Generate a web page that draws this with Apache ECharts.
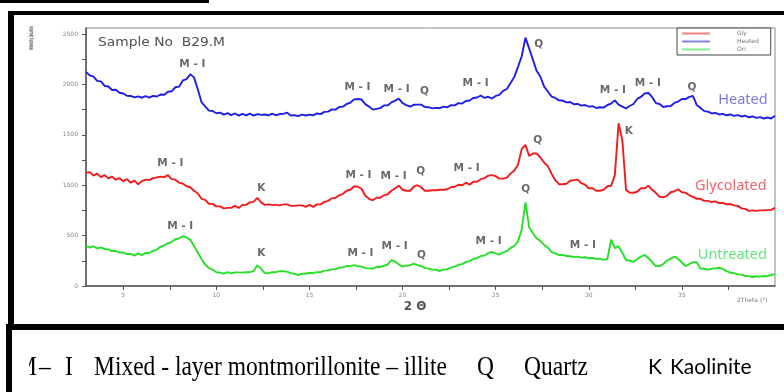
<!DOCTYPE html>
<html><head><meta charset="utf-8">
<script src="https://cdn.jsdelivr.net/npm/echarts@6/dist/echarts.min.js"></script>
<style>html,body{margin:0;padding:0;background:#fff}#c{width:784px;height:392px}</style>
</head><body><div id="c"></div>
<script>
const twoTheta = [
3,3.2,3.4,3.6,3.8,4,4.2,4.4,4.6,4.8,
5,5.2,5.4,5.6,5.8,6,6.2,6.4,6.6,6.8,
7,7.2,7.4,7.6,7.8,8,8.2,8.4,8.6,8.8,
9,9.2,9.4,9.6,9.8,10,10.2,10.4,10.6,10.8,
11,11.2,11.4,11.6,11.8,12,12.2,12.4,12.6,12.8,
13,13.2,13.4,13.6,13.8,14,14.2,14.4,14.6,14.8,
15,15.2,15.4,15.6,15.8,16,16.2,16.4,16.6,16.8,
17,17.2,17.4,17.6,17.8,18,18.2,18.4,18.6,18.8,
19,19.2,19.4,19.6,19.8,20,20.2,20.4,20.6,20.8,
21,21.2,21.4,21.6,21.8,22,22.2,22.4,22.6,22.8,
23,23.2,23.4,23.6,23.8,24,24.2,24.4,24.6,24.8,
25,25.2,25.4,25.6,25.8,26,26.2,26.4,26.6,26.8,
27,27.2,27.4,27.6,27.8,28,28.2,28.4,28.6,28.8,
29,29.2,29.4,29.6,29.8,30,30.2,30.4,30.6,30.8,
31,31.2,31.4,31.6,31.8,32,32.2,32.4,32.6,32.8,
33,33.2,33.4,33.6,33.8,34,34.2,34.4,34.6,34.8,
35,35.2,35.4,35.6,35.8,36,36.2,36.4,36.6,36.8,
37,37.2,37.4,37.6,37.8,38,38.2,38.4,38.6,38.8,
39,39.2,39.4,39.6,39.8,40
];
const heated = [
2125,2090,2078,2035,2030,1985,1980,1945,1948,1918,
1910,1888,1886,1872,1882,1868,1884,1870,1886,1880,
1900,1898,1928,1932,1972,1978,2040,2052,2100,2070,
1955,1825,1782,1740,1736,1714,1720,1700,1716,1696,
1712,1690,1708,1692,1710,1690,1706,1698,1702,1694,
1710,1694,1706,1708,1720,1692,1696,1686,1700,1692,
1700,1694,1712,1706,1728,1730,1752,1750,1776,1780,
1806,1820,1852,1856,1850,1805,1780,1750,1758,1765,
1792,1792,1822,1840,1860,1815,1795,1780,1798,1800,
1800,1776,1774,1762,1768,1764,1780,1774,1794,1792,
1815,1810,1836,1840,1866,1870,1890,1866,1878,1860,
1886,1896,1936,1955,2015,2075,2175,2280,2465,2355,
2245,2135,2076,1980,1930,1880,1866,1842,1840,1822,
1826,1804,1806,1790,1796,1780,1784,1766,1774,1770,
1796,1810,1842,1800,1780,1762,1786,1806,1856,1876,
1910,1915,1876,1815,1806,1776,1784,1786,1816,1830,
1856,1855,1876,1885,1795,1766,1735,1730,1712,1718,
1702,1708,1694,1702,1688,1696,1682,1690,1674,1682,
1668,1676,1662,1672,1662,1690
];
const glycolated = [
1125,1130,1095,1115,1080,1100,1068,1085,1055,1070,
1040,1060,1025,1045,1010,1040,1055,1050,1070,1078,
1085,1080,1100,1060,1055,1025,1015,990,980,945,
920,865,855,815,815,790,790,770,775,775,
795,775,805,805,830,835,875,830,805,810,
805,805,800,810,810,795,795,800,800,785,
805,785,810,810,835,845,870,875,900,915,
945,955,990,985,965,895,865,850,875,875,
900,910,945,970,995,955,945,945,985,1000,
980,945,945,950,950,955,955,960,980,985,
1005,1000,1025,1005,1035,1035,1060,1070,1095,1100,
1090,1065,1065,1075,1115,1145,1205,1360,1400,1290,
1315,1315,1275,1225,1190,1115,1050,1010,1010,1015,
1045,1050,1055,1020,1005,970,970,945,945,955,
990,995,1100,1615,1450,955,925,925,935,970,
970,995,955,925,885,880,895,930,940,960,
930,925,900,885,865,865,845,845,833,840,
823,825,810,813,800,795,770,765,745,750,
745,750,750,753,755,775
];
const untreated = [
398,382,393,372,383,367,363,347,348,332,
333,317,318,302,323,307,328,327,348,362,
388,402,424,436,464,471,494,482,458,398,
333,268,212,178,163,137,133,122,138,125,
135,135,133,137,138,148,205,172,128,127,
138,137,148,147,143,127,121,109,123,122,
131,127,138,137,153,155,165,167,181,187,
198,197,208,197,193,177,175,172,188,189,
201,212,258,242,213,192,203,205,221,207,
198,177,173,162,161,149,163,167,183,192,
211,217,238,247,268,277,298,302,328,337,
323,312,333,347,378,397,443,560,830,580,
523,472,448,407,383,337,323,307,308,297,
295,287,291,282,285,275,278,269,271,259,
268,460,375,395,330,258,253,239,265,292,
308,277,238,197,198,217,253,272,293,267,
233,197,218,237,233,172,171,162,173,172,
181,169,148,132,128,115,113,99,98,89,
97,94,99,97,111,115
];
const yTickValues = [0,250,500,750,1000,1250,1500,1750,2000,2250,2500];
const yLabelValues = [0,500,1000,1500,2000,2500];
const xTickValues = [5,7.5,10,12.5,15,17.5,20,22.5,25,27.5,30,32.5,35,37.5];
const xLabelValues = [5,10,15,20,25,30,35];
const heatedNotes = [
  ['M - I', 8.71, 2202], ['M - I', 17.58, 1974], ['M - I', 19.68, 1954], ['Q', 21.18, 1934],
  ['M - I', 23.92, 2014], ['Q', 27.31, 2401], ['M - I', 31.29, 1944], ['M - I', 33.17, 2014], ['Q', 35.54, 1974]
];
const glycolatedNotes = [
  ['M - I', 7.53, 1220], ['K', 12.42, 972], ['M - I', 17.63, 1101], ['M - I', 19.52, 1091],
  ['Q', 20.97, 1141], ['M - I', 23.44, 1171], ['Q', 27.26, 1448], ['K', 32.15, 1538]
];
const untreatedNotes = [
  ['M - I', 8.06, 595], ['K', 12.42, 327], ['M - I', 17.74, 327], ['M - I', 19.57, 397],
  ['Q', 21.02, 308], ['M - I', 24.62, 446], ['Q', 26.61, 962], ['M - I', 29.68, 407]
];
const seriesTags = [
  ['Heated', 38.28, 1845, '#5a5ad2'],
  ['Glycolated', 37.63, 992, '#e8404a'],
  ['Untreated', 37.71, 308, '#3cdc5a']
];

const BLUE = '#1e1ee6', RED = '#f01c1c', GREEN = '#26e026';
const pairs = arr => twoTheta.map((x, i) => [x, arr[i]]);
const notes = heatedNotes.concat(glycolatedNotes, untreatedNotes).map(n => ({name: n[0], value: [n[1], n[2]]}));
const tags = seriesTags.map(t => ({name: t[0], value: [t[1], t[2]], label: {color: t[3]}}));

const chart = echarts.init(document.getElementById('c'), null, {renderer: 'canvas'});
const lineSeries = (name, data, color, z) => ({
  type: 'line', name: name, data: pairs(data), showSymbol: false, symbol: 'none',
  lineStyle: {width: 1.9, color: color}, itemStyle: {color: color}, z: z, animation: false
});
chart.setOption({
  animation: false,
  backgroundColor: '#fff',
  grid: {left: 86, right: 9, top: 28, bottom: 106, show: true, borderColor: '#8a8a8a', borderWidth: 1},
  legend: {
    orient: 'vertical', left: 677, top: 28, padding: [2, 12, 2, 5], itemGap: 1,
    itemWidth: 28, itemHeight: 2, icon: 'rect',
    borderColor: '#444', borderWidth: 1, backgroundColor: '#fff',
    itemStyle: {opacity: 0.55},
    textStyle: {fontSize: 6, color: '#777', padding: [0, 0, 0, 22], lineHeight: 7, fontFamily: 'DejaVu Sans'},
    data: ['Gly', 'Heated', 'Ori']
  },
  xAxis: {
    type: 'value', min: 3, max: 40,
    axisLine: {show: true, onZero: false, lineStyle: {color: '#555', width: 1.5}},
    axisTick: {show: true, customValues: xTickValues, length: 4, lineStyle: {color: '#555'}},
    axisLabel: {customValues: xLabelValues, formatter: v => String(v), fontSize: 6, color: '#888', margin: 6, fontFamily: 'DejaVu Sans'},
    splitLine: {show: false}
  },
  yAxis: {
    type: 'value', min: 0, max: 2560,
    axisLine: {show: true, lineStyle: {color: '#555', width: 1.5}},
    axisTick: {show: true, customValues: yTickValues, length: 4, lineStyle: {color: '#555'}},
    axisLabel: {customValues: yLabelValues, formatter: v => String(v), fontSize: 6, color: '#888', margin: 8, fontFamily: 'DejaVu Sans'},
    splitLine: {show: false}
  },
  series: [
    lineSeries('Gly', glycolated, RED, 3),
    lineSeries('Heated', heated, BLUE, 4),
    lineSeries('Ori', untreated, GREEN, 2),
    {
      type: 'scatter', name: 'notes', data: notes, symbolSize: 0, silent: true, z: 6,
      label: {show: true, position: 'inside', formatter: p => p.name, color: '#444',
        fontSize: 10.5, fontWeight: 'bold', fontFamily: 'DejaVu Sans'}
    },
    {
      type: 'scatter', name: 'tags', data: tags, symbolSize: 0, silent: true, z: 6,
      label: {show: true, position: 'inside', formatter: p => p.name,
        fontSize: 14.5, fontFamily: 'Noto Sans'}
    }
  ],
  graphic: [
    {type: 'rect', shape: {x: 0, y: 0, width: 209, height: 3}, style: {fill: '#000'}},
    {type: 'rect', shape: {x: 8, y: 11, width: 776, height: 4}, style: {fill: '#000'}},
    {type: 'rect', shape: {x: 8, y: 11, width: 6, height: 315}, style: {fill: '#000'}},
    {type: 'rect', shape: {x: 6, y: 324, width: 778, height: 6}, style: {fill: '#000'}},
    {type: 'rect', shape: {x: 6, y: 324, width: 6, height: 68}, style: {fill: '#000'}},
    {type: 'text', x: 98, y: 43, scaleX: 1.15, style: {text: 'Sample No  B29.M', fill: '#505050',
      font: '12px "DejaVu Sans"', verticalAlign: 'middle'}},
    {type: 'text', x: 31.5, y: 38, rotation: Math.PI / 2, scaleX: 0.4,
      style: {text: 'Intensity (counts)', fill: '#555', font: 'bold 6px "DejaVu Sans"', align: 'center', verticalAlign: 'middle'}},
    {type: 'text', x: 415, y: 307, style: {text: '2 Θ', fill: '#555', font: 'bold 12px "DejaVu Sans"', align: 'center', verticalAlign: 'middle'}},
    {type: 'text', x: 737, y: 300, style: {text: '2Theta (°)', fill: '#777', font: '6px "DejaVu Sans"', verticalAlign: 'middle'}},
    {type: 'text', x: 37, y: 368, scaleX: 0.87, style: {text: 'M', fill: '#000', font: '27px "Liberation Serif"', align: 'right', verticalAlign: 'middle'}},
    {type: 'rect', shape: {x: 12, y: 350, width: 17, height: 30}, style: {fill: '#fff'}, z: 200},
    {type: 'text', x: 39, y: 368, scaleX: 0.87, style: {text: '–', fill: '#000', font: '27px "Liberation Serif"', verticalAlign: 'middle'}},
    {type: 'text', x: 65, y: 368, scaleX: 0.87, style: {text: 'I', fill: '#000', font: '27px "Liberation Serif"', verticalAlign: 'middle'}},
    {type: 'text', x: 94, y: 368, scaleX: 0.87, style: {text: 'Mixed - layer montmorillonite – illite', fill: '#000', font: '27px "Liberation Serif"', verticalAlign: 'middle'}},
    {type: 'text', x: 477, y: 368, scaleX: 0.87, style: {text: 'Q', fill: '#000', font: '27px "Liberation Serif"', verticalAlign: 'middle'}},
    {type: 'text', x: 524, y: 368, scaleX: 0.87, style: {text: 'Quartz', fill: '#000', font: '27px "Liberation Serif"', verticalAlign: 'middle'}},
    {type: 'text', x: 648, y: 367, style: {text: 'K', fill: '#000', font: '21px Lato', verticalAlign: 'middle'}},
    {type: 'text', x: 670, y: 367, style: {text: 'Kaolinite', fill: '#000', font: '21px Lato', verticalAlign: 'middle'}}
  ]
});
</script>
</body></html>
